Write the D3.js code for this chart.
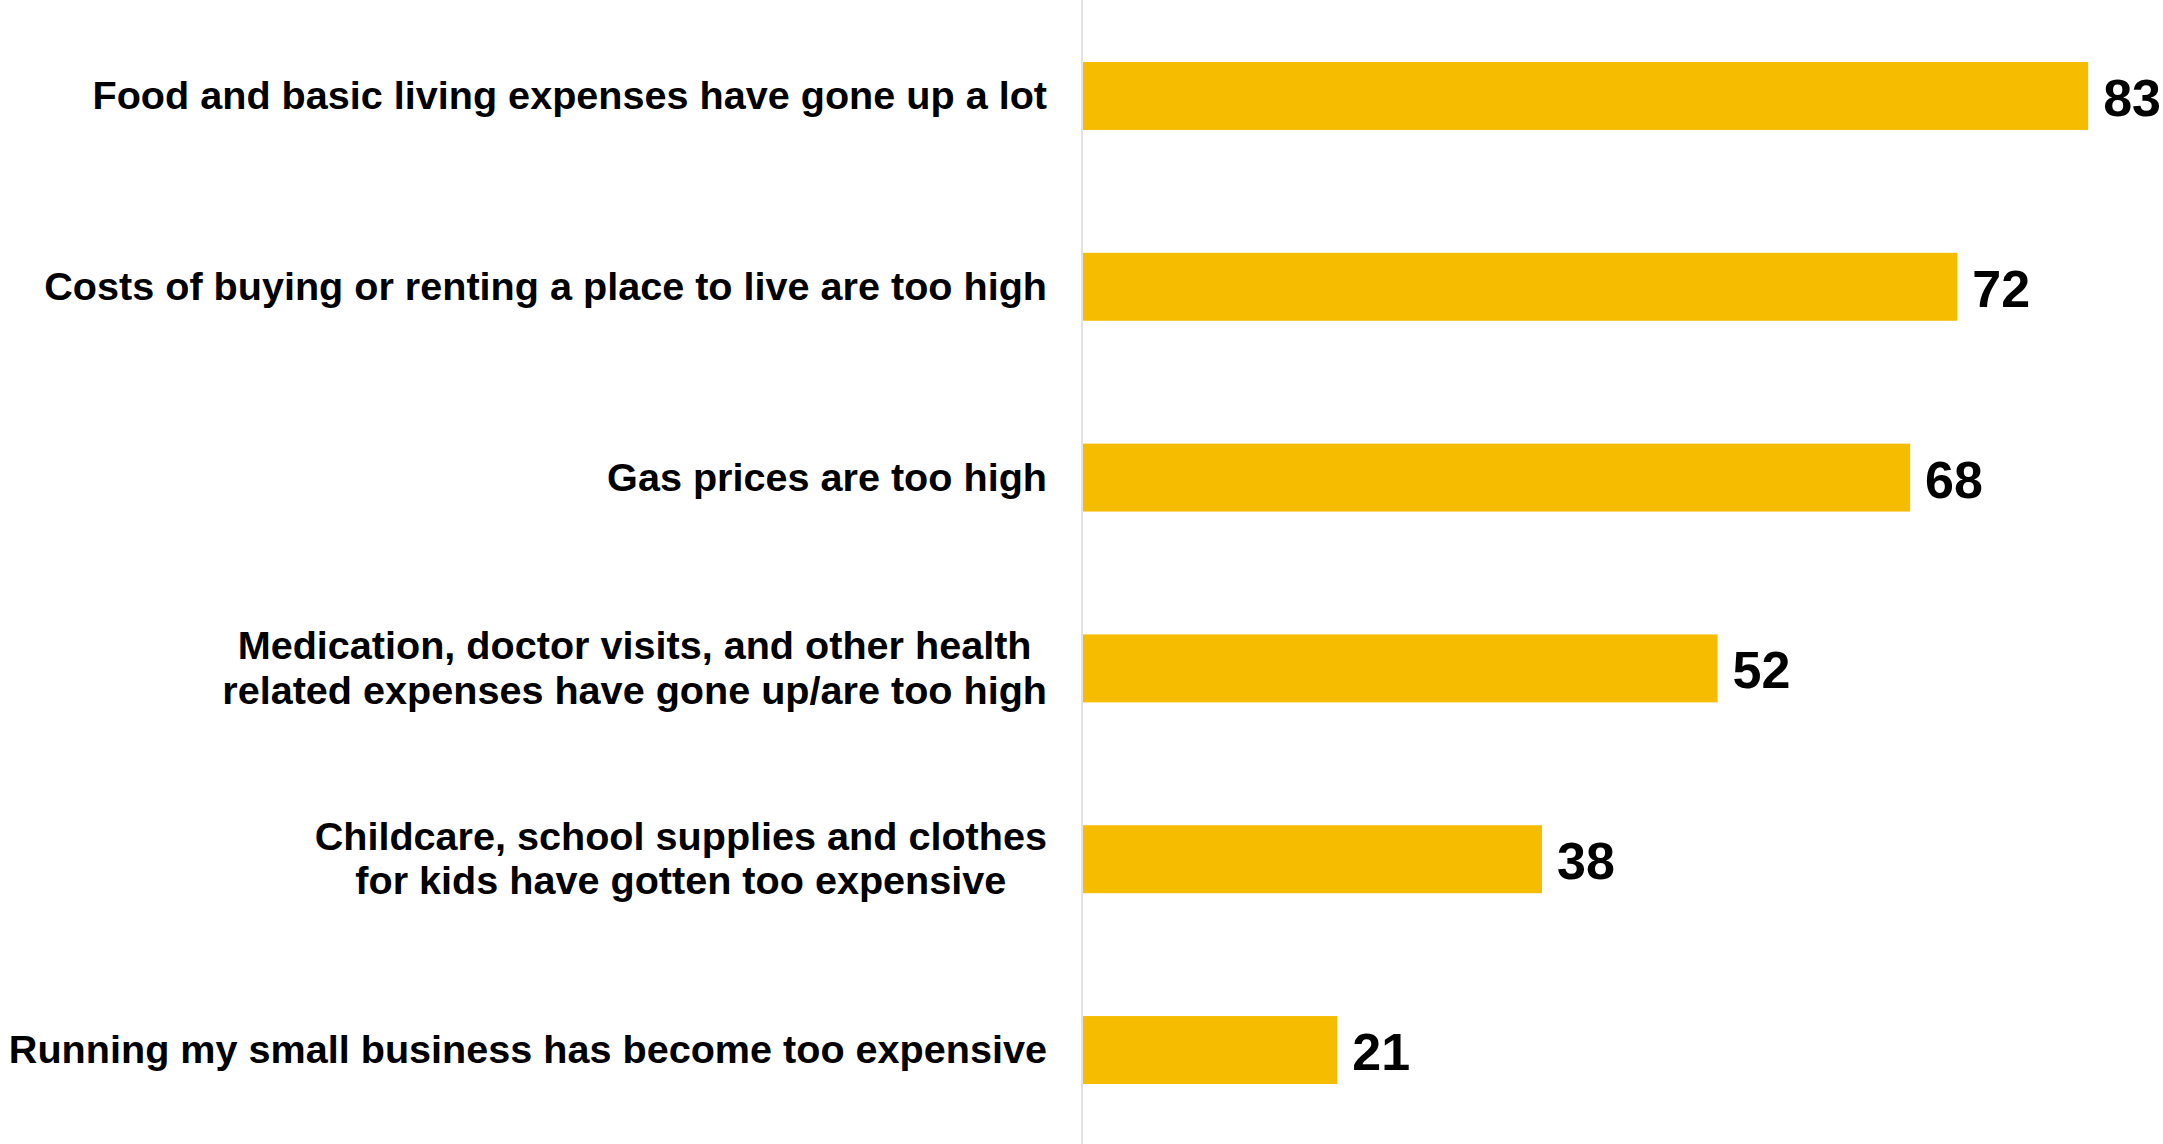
<!DOCTYPE html>
<html>
<head>
<meta charset="utf-8">
<script src="https://cdn.jsdelivr.net/npm/d3@7"></script>
<style>
  html, body { margin: 0; padding: 0; background: #ffffff; }
  svg { display: block; }
  text { font-family: "Liberation Sans", Arial, sans-serif; font-weight: bold; fill: #000; }
</style>
</head>
<body>
<svg id="chart" width="2163" height="1144"></svg>
<script>
const categories = [
  "Food and basic living expenses have gone up a lot",
  "Costs of buying or renting a place to live are too high",
  "Gas prices are too high",
  "Medication, doctor visits, and other health\nrelated expenses have gone up/are too high",
  "Childcare, school supplies and clothes\nfor kids have gotten too expensive",
  "Running my small business has become too expensive"
];
// bar lengths as measured (labels show the rounded value)
const values = [83.0, 72.2, 68.3, 52.4, 37.9, 21.0];

const W = 2163, H = 1144;
const axisX = 1083;
const svg = d3.select("#chart");

const x = d3.scaleLinear().domain([0, 100]).range([axisX, axisX + 1211]);
const y = d3.scaleBand().domain(categories).range([0, 1146]).paddingInner(0.644).paddingOuter(0.325);
const fmt = d3.format(".0f");

const data = categories.map((c, i) => ({ cat: c, value: values[i] }));

// bars
svg.append("g").selectAll("rect").data(data).join("rect")
  .attr("x", x(0))
  .attr("y", d => y(d.cat))
  .attr("width", d => x(d.value) - x(0))
  .attr("height", y.bandwidth())
  .attr("fill", "#F5BC00");

// vertical axis line
svg.append("line")
  .attr("x1", axisX - 1).attr("x2", axisX - 1)
  .attr("y1", 0).attr("y2", H)
  .attr("stroke", "#d9d9d9").attr("stroke-width", 1.5);

// category labels
const labelRight = 1047;
const fs = 39.6, lh = 44.4;
const lg = svg.append("g");
data.forEach(d => {
  const lines = d.cat.split("\n");
  const cy = y(d.cat) + y.bandwidth() / 2;
  const g = lg.append("g");
  const texts = lines.map((ln, j) => g.append("text")
    .attr("font-size", fs)
    .attr("y", cy + 13 + (j - (lines.length - 1) / 2) * lh)
    .text(ln));
  const widths = texts.map(t => t.node().getComputedTextLength());
  const maxW = d3.max(widths);
  const cx = labelRight - maxW / 2;
  texts.forEach(t => t.attr("x", cx).attr("text-anchor", "middle"));
});

// value labels
svg.append("g").selectAll("text").data(data).join("text")
  .attr("x", d => x(d.value) + 15)
  .attr("y", d => y(d.cat) + y.bandwidth() / 2 + 20)
  .attr("font-size", 52)
  .text(d => fmt(d.value));
</script>
</body>
</html>
